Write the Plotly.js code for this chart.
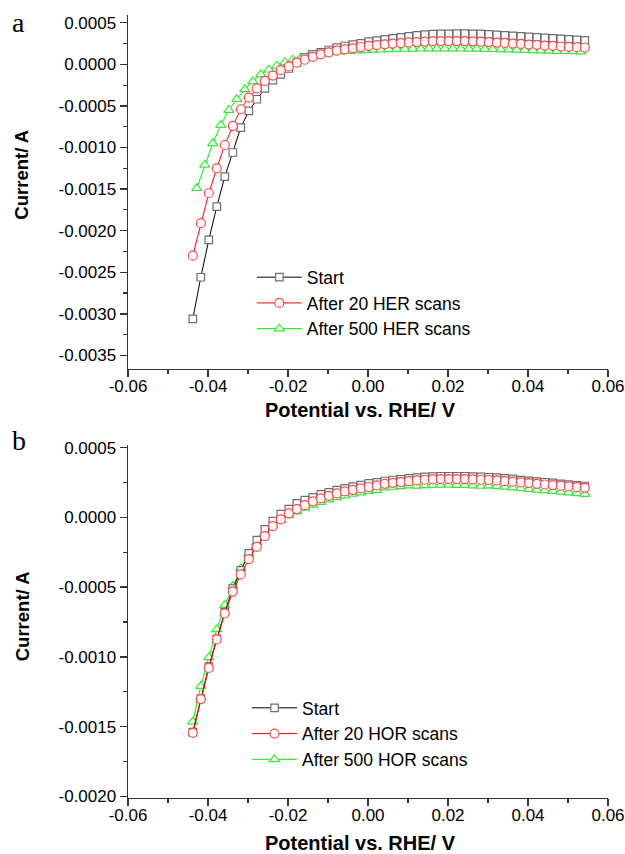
<!DOCTYPE html>
<html>
<head>
<meta charset="utf-8">
<script src="https://cdn.plot.ly/plotly-3.0.1.min.js"></script>
<style>
html,body{margin:0;padding:0;background:#fff;}
#chart{width:625px;height:854px;}
</style>
</head>
<body>
<div id="chart"></div>
<script>
// ---- Data (Potential vs. RHE / V ; Current / A) ----
var potentialA = [-0.0438,-0.0418,-0.0398,-0.0378,-0.0358,-0.0338,-0.0318,-0.0298,-0.0278,-0.0258,
  -0.0238,-0.0218,-0.0198,-0.0178,-0.0158,-0.0138,-0.0118,-0.0098,-0.0078,-0.0058,
  -0.0038,-0.0018,0.0002,0.0022,0.0042,0.0062,0.0082,0.0102,0.0122,0.0142,
  0.0162,0.0182,0.0202,0.0222,0.0242,0.0262,0.0282,0.0302,0.0322,0.0342,
  0.0362,0.0382,0.0402,0.0422,0.0442,0.0462,0.0482,0.0502,0.0522,0.0542];
var potentialA500 = [-0.0428,-0.0408,-0.0388,-0.0368,-0.0348,-0.0328,-0.0308,-0.0288,-0.0268,-0.0248,
  -0.0228,-0.0208,-0.0188,-0.0168,-0.0148,-0.0128,-0.0108,-0.0088,-0.0068,-0.0048,
  -0.0028,-0.0008,0.0012,0.0032,0.0052,0.0072,0.0092,0.0112,0.0132,0.0152,
  0.0172,0.0192,0.0212,0.0232,0.0252,0.0272,0.0292,0.0312,0.0332,0.0352,
  0.0372,0.0392,0.0412,0.0432,0.0452,0.0472,0.0492,0.0512,0.0532];
var startHER = [-0.00306,-0.00256,-0.00211,-0.00171,-0.00135,-0.00106,-0.00076,-0.00056,-0.00042,-0.00029,
  -0.00019,-0.00012,-0.00005,0.00002,0.00008,0.00012,0.000144,0.000172,0.0002,0.00022,
  0.000236,0.000252,0.000272,0.000284,0.0003,0.000313,0.000325,0.000337,0.000349,0.000356,
  0.000362,0.000365,0.000367,0.000368,0.000368,0.000367,0.000365,0.00036,0.000355,0.000349,
  0.000343,0.000336,0.00033,0.000324,0.000318,0.000312,0.000306,0.0003,0.000294,0.000288];
var after20HER = [-0.0023,-0.00191,-0.00155,-0.00125,-0.00097,-0.00074,-0.00054,-0.0004,-0.00029,-0.0002,
  -0.000135,-0.00007,-0.000025,0.00002,0.000055,0.00009,0.00012,0.000144,0.000164,0.00018,
  0.000192,0.000208,0.000222,0.000232,0.00024,0.00025,0.000256,0.000263,0.000268,0.000274,
  0.000278,0.000279,0.00028,0.00028,0.000279,0.000276,0.000272,0.000267,0.000261,0.000257,
  0.00025,0.000245,0.000238,0.000234,0.000226,0.000222,0.000214,0.00021,0.000206,0.000202];
var after500HER = [-0.00149,-0.00121,-0.00095,-0.00073,-0.00055,-0.00042,-0.0003,-0.000205,-0.00012,-0.000065,
  -0.00002,0.000025,0.000055,0.00008,0.0001,0.000118,0.000132,0.000143,0.000152,0.000159,
  0.000165,0.00017,0.000174,0.000177,0.00018,0.000182,0.000184,0.000186,0.000187,0.000188,
  0.000188,0.000188,0.000188,0.000187,0.000186,0.000185,0.000183,0.000181,0.000179,0.000176,
  0.000173,0.00017,0.000167,0.000164,0.000161,0.000159,0.000157,0.000155,0.000153];

var potentialB = potentialA;
var startHOR = [-0.00154,-0.0013,-0.00107,-0.00087,-0.00068,-0.00051,-0.00038,
  -0.000258,-0.000163,-0.000086,-0.000027,0.000024,0.00006,0.0001,0.000124,0.000143,0.000165,0.000179,0.000196,0.000208,0.00022,0.000232,0.000244,0.000251,
  0.000261,0.000268,0.000273,0.00028,0.000285,0.00029,0.000292,0.000295,0.000295,0.000295,0.000295,0.000292,0.00029,0.000288,0.000285,0.00028,
  0.000276,0.000267,0.000262,0.000257,0.000252,0.000248,0.00024,0.000235,0.00023,0.000225];
var after20HOR = [-0.001545,-0.001303,-0.001079,-0.000875,-0.000689,-0.000532,
  -0.000409,-0.000299,-0.000211,-0.000134,-0.000062,-0.000014,0.000029,0.00006,0.000088,0.000115,0.000136,0.000155,0.000172,0.000186,0.000198,0.000208,0.000218,0.000229,
  0.000241,0.000248,0.000253,0.00026,0.000265,0.00027,0.000272,0.000275,0.000275,0.000275,0.000275,0.000272,0.00027,0.000268,0.000265,0.00026,
  0.000256,0.000251,0.000246,0.000241,0.000236,0.000232,0.000227,0.000222,0.000217,0.000212];
var after500HOR = [-0.001466,-0.00121,-0.001004,-0.000803,-0.000629,-0.000492,
  -0.000366,-0.000262,-0.00018,-0.000115,-0.00006,-0.00002,0.000015,0.000042,0.000068,0.00009,0.00011,0.000128,0.000143,0.000156,0.000168,0.000178,0.000188,0.000196,
  0.000213,0.000218,0.000222,0.000228,0.000226,0.00023,0.000231,0.000233,0.000233,0.000232,0.000231,0.000228,0.000225,0.000228,0.000224,0.000219,
  0.000214,0.000209,0.000203,0.000198,0.000192,0.000188,0.000183,0.000177,0.000172,0.000167];

var xTickVals = [-0.06,-0.04,-0.02,0,0.02,0.04,0.06];
var xTickText = ['-0.06','-0.04','-0.02','0.00','0.02','0.04','0.06'];
var yTickValsA = [0.0005,0,-0.0005,-0.001,-0.0015,-0.002,-0.0025,-0.003,-0.0035];
var yTickTextA = ['0.0005','0.0000','-0.0005','-0.0010','-0.0015','-0.0020','-0.0025','-0.0030','-0.0035'];
var yTickValsB = [0.0005,0,-0.0005,-0.001,-0.0015,-0.002];
var yTickTextB = ['0.0005','0.0000','-0.0005','-0.0010','-0.0015','-0.0020'];
var namesA = ['Start','After 20 HER scans','After 500 HER scans'];
var namesB = ['Start','After 20 HOR scans','After 500 HOR scans'];

// ---- styles ----
var sBlack = {line:{color:'#000000',width:1}, marker:{symbol:'square',size:7.5,color:'#ffffff',line:{color:'#6e6e6e',width:1.2}}};
var sRed   = {line:{color:'#ff0000',width:1}, marker:{symbol:'circle',size:9,color:'#ffffff',line:{color:'#ff4a4a',width:1.2}}};
var sGreen = {line:{color:'#00ee00',width:1}, marker:{symbol:'triangle-up',size:9,color:'#ffffff',line:{color:'#3ae83a',width:1.2}}};

function tr(x,y,name,st,xa,ya,leg,rank){
  return {x:x,y:y,name:name,type:'scatter',mode:'lines+markers',xaxis:xa,yaxis:ya,legend:leg,legendrank:rank,
          line:st.line,marker:st.marker,cliponaxis:false};
}
var data = [
  tr(potentialA500,after500HER,namesA[2],sGreen,'x','y','legend',3),
  tr(potentialA,startHER,namesA[0],sBlack,'x','y','legend',1),
  tr(potentialA,after20HER,namesA[1],sRed,'x','y','legend',2),
  tr(potentialB,after500HOR,namesB[2],sGreen,'x2','y2','legend2',3),
  tr(potentialB,startHOR,namesB[0],sBlack,'x2','y2','legend2',1),
  tr(potentialB,after20HOR,namesB[1],sRed,'x2','y2','legend2',2)
];

var tickFont = {family:'Liberation Sans, Arial, sans-serif',size:17,color:'#000'};
function xax(anchor){
  return {domain:[0,1],anchor:anchor,range:[-0.06,0.06],tickmode:'array',tickvals:xTickVals,ticktext:xTickText,
    ticks:'outside',ticklen:7,tickwidth:1.3,tickcolor:'#333',showline:true,linecolor:'#333',linewidth:1.4,
    ticklabelstandoff:-6,
    showgrid:false,zeroline:false,tickfont:tickFont,
    minor:{tickmode:'linear',tick0:-0.06,dtick:0.01,ticks:'outside',ticklen:4,tickwidth:1.2,tickcolor:'#333',showgrid:false}};
}
function yax(anchor,dom,rng,tv,tt){
  return {domain:dom,anchor:anchor,range:rng,tickmode:'array',tickvals:tv,ticktext:tt,
    ticks:'outside',ticklen:7,tickwidth:1.3,tickcolor:'#333',showline:true,linecolor:'#333',linewidth:1.4,
    showgrid:false,zeroline:false,tickfont:tickFont,
    minor:{tickmode:'linear',tick0:0,dtick:0.00025,ticks:'outside',ticklen:4,tickwidth:1.2,tickcolor:'#333',showgrid:false}};
}
var legFont = {family:'Liberation Sans, Arial, sans-serif',size:17.5,color:'#000'};
var titleFont = {family:'Liberation Sans, Arial, sans-serif',size:20,color:'#000',weight:'bold'};
var yTitleFont = {family:'Liberation Sans, Arial, sans-serif',size:18.5,color:'#000',weight:'bold'};
var letterFont = {family:'Liberation Serif, Times New Roman, serif',size:28,color:'#000'};

var layout = {
  width:625,height:854,
  margin:{l:128,r:17,t:15,b:56},
  paper_bgcolor:'#fff',plot_bgcolor:'#fff',
  showlegend:true,
  xaxis:xax('y'),
  yaxis:yax('x',[0.548,1],[-0.003662,0.000593],yTickValsA,yTickTextA),
  xaxis2:xax('y2'),
  yaxis2:yax('x2',[0,0.4508],[-0.002012,0.000519],yTickValsB,yTickTextB),
  legend:{x:0.258,y:0.688,xanchor:'left',yanchor:'top',bgcolor:'rgba(0,0,0,0)',font:legFont,itemwidth:45,tracegroupgap:0,traceorder:'normal'},
  legend2:{x:0.248,y:0.138,xanchor:'left',yanchor:'top',bgcolor:'rgba(0,0,0,0)',font:legFont,itemwidth:45,tracegroupgap:0,traceorder:'normal'},
  annotations:[
    {text:'Current/ A',xref:'paper',yref:'paper',x:-0.221,y:0.796,xanchor:'center',yanchor:'middle',textangle:-90,showarrow:false,font:yTitleFont},
    {text:'Current/ A',xref:'paper',yref:'paper',x:-0.221,y:0.232,xanchor:'center',yanchor:'middle',textangle:-90,showarrow:false,font:yTitleFont},
    {text:'Potential vs. RHE/ V',xref:'paper',yref:'paper',x:0.485,y:0.4955,xanchor:'center',yanchor:'middle',showarrow:false,font:titleFont},
    {text:'Potential vs. RHE/ V',xref:'paper',yref:'paper',x:0.485,y:-0.0575,xanchor:'center',yanchor:'middle',showarrow:false,font:titleFont},
    {text:'a',xref:'paper',yref:'paper',x:-0.229,y:0.991,xanchor:'center',yanchor:'middle',showarrow:false,font:letterFont},
    {text:'b',xref:'paper',yref:'paper',x:-0.227,y:0.456,xanchor:'center',yanchor:'middle',showarrow:false,font:letterFont}
  ]
};
Plotly.newPlot('chart',data,layout,{displayModeBar:false,staticPlot:true});
</script>
</body>
</html>
